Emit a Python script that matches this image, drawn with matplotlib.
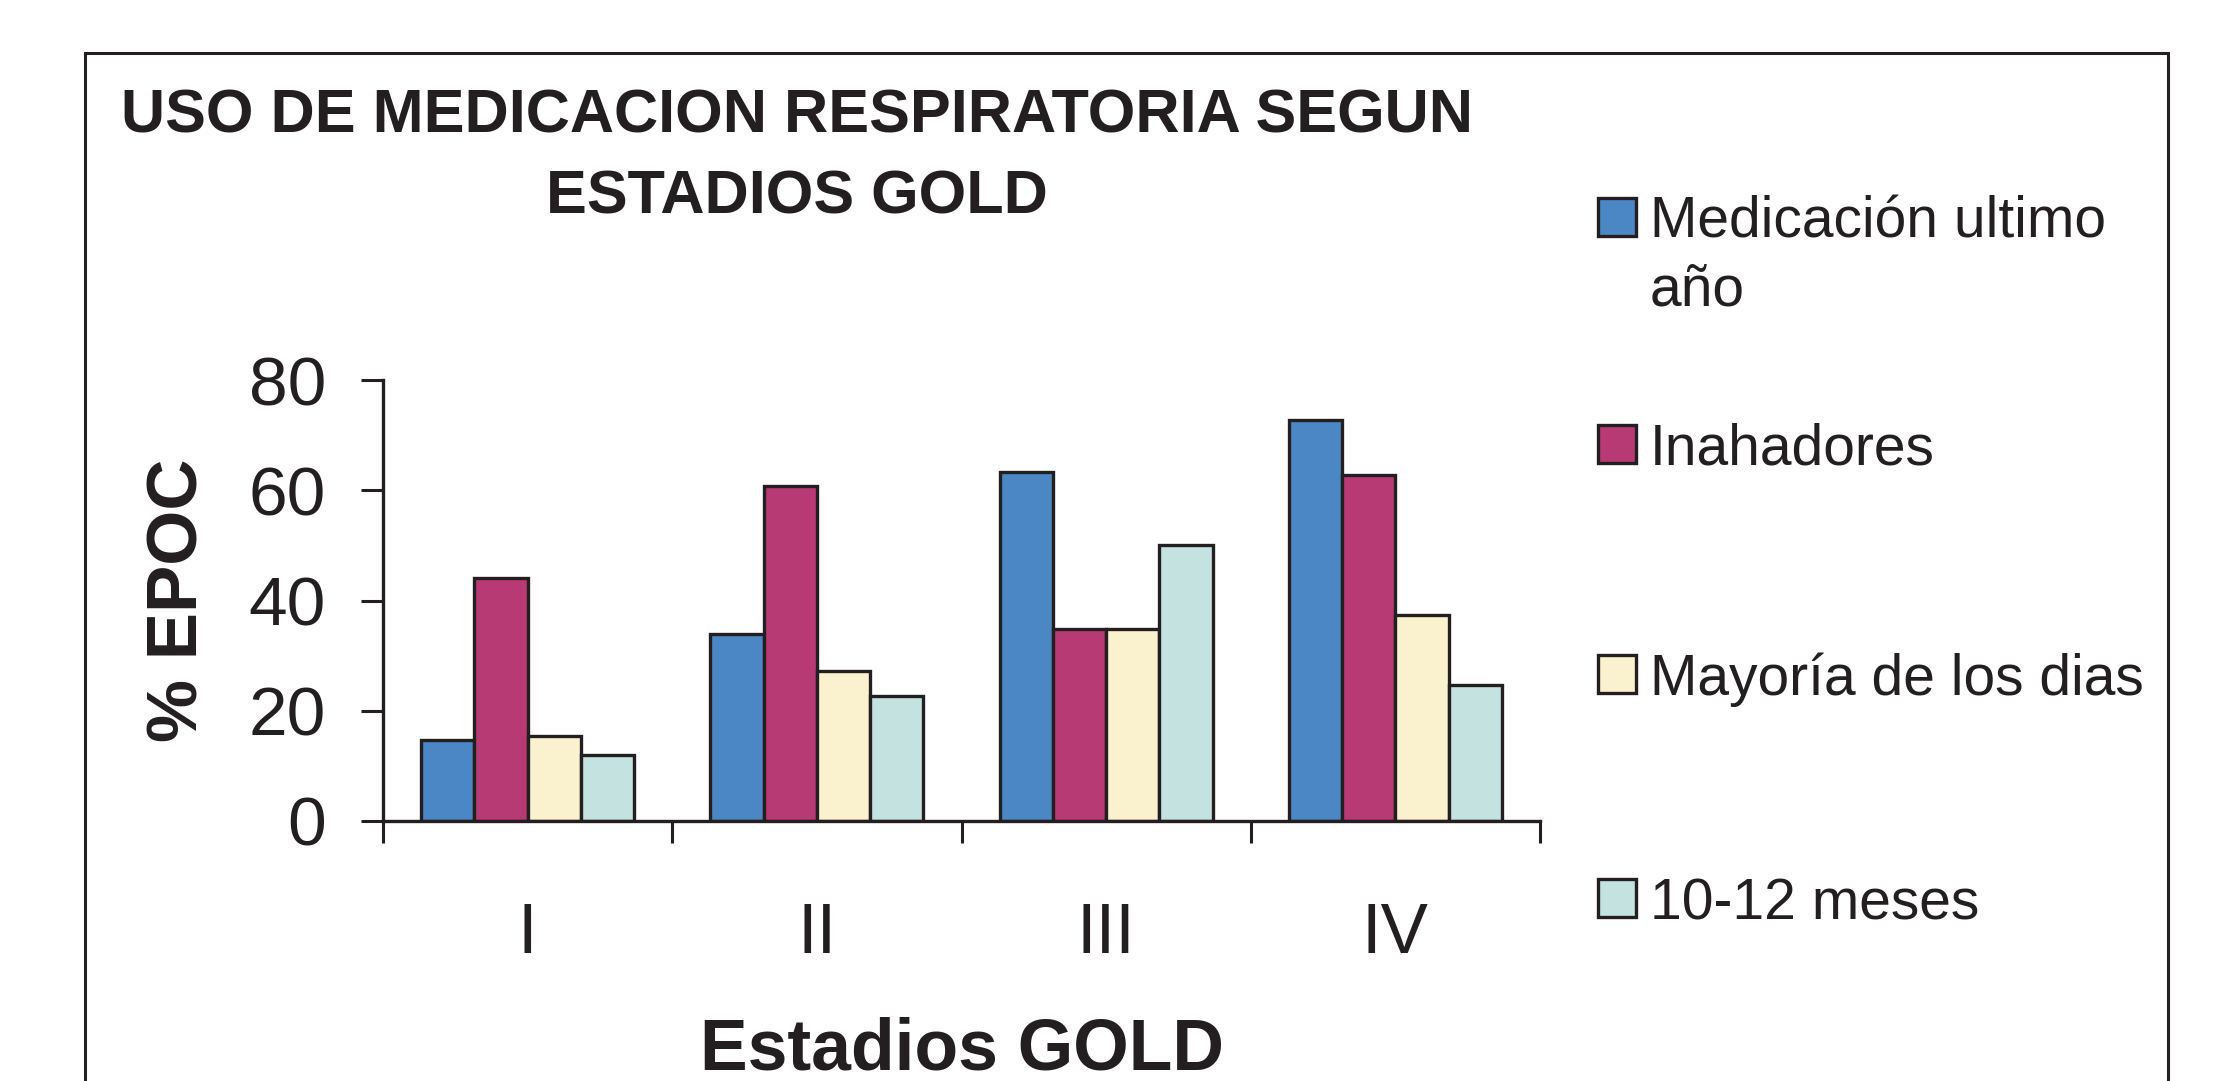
import matplotlib
matplotlib.use("Agg")
import matplotlib.pyplot as plt
import numpy as np
from matplotlib.patches import Rectangle

# ---- data ----
categories = ["I", "II", "III", "IV"]
series_labels = ["Medicación ultimo\naño", "Inahadores", "Mayoría de los dias", "10-12 meses"]
medicacion = [14.7, 34.0, 63.4, 72.8]
inhaladores = [44.0, 60.8, 34.8, 62.7]
mayoria = [15.4, 27.3, 34.8, 37.3]
meses = [12.0, 22.7, 50.1, 24.7]
series_values = [medicacion, inhaladores, mayoria, meses]
colors = ["#4B87C5", "#B73A74", "#FAF2CE", "#C4E3E0"]
yticks = [0, 20, 40, 60, 80]
title_lines = ["USO DE MEDICACION RESPIRATORIA SEGUN", "ESTADIOS GOLD"]
ylabel = "% EPOC"
xlabel = "Estadios GOLD"

plt.rcParams['font.family'] = ['Liberation Sans', 'DejaVu Sans']
edge = "#231F20"

W, H = 2225, 1081
fig = plt.figure(figsize=(W / 100, H / 100), dpi=100)

def fx(px):
    return px / W

def fy(py):
    return 1 - py / H

# axes placement
ax_left, ax_right, ax_top, ax_bot = 383, 1540, 380, 821
ax = fig.add_axes([fx(ax_left), fy(ax_bot), fx(ax_right - ax_left), (ax_bot - ax_top) / H])

n = len(series_values)
bw = 0.184
x = np.arange(len(categories))
for i, (vals, c) in enumerate(zip(series_values, colors)):
    offs = (i - (n - 1) / 2) * bw
    ax.bar(x + offs, vals, width=bw, color=c, edgecolor=edge, linewidth=2.4, zorder=2)

ax.set_xlim(-0.5, len(categories) - 0.5)
ax.set_ylim(0, 80)
for s in ["top", "right"]:
    ax.spines[s].set_visible(False)
for s in ["left", "bottom"]:
    ax.spines[s].set_linewidth(2.4)
    ax.spines[s].set_color(edge)
    ax.spines[s].set_zorder(3)

ax.set_yticks(yticks)
ax.set_yticklabels([str(v) for v in yticks])
ax.tick_params(axis='y', direction='out', length=16, width=2.2, color=edge,
               labelsize=50, pad=25, labelcolor=edge)

ax.set_xticks(np.arange(-0.5, len(categories), 1.0))
ax.set_xticklabels([])
ax.set_xticks(x, minor=True)
ax.set_xticklabels(categories, minor=True)
ax.tick_params(axis='x', which='major', direction='out', length=16, width=2.2, color=edge)
ax.tick_params(axis='x', which='minor', length=0, labelsize=51, pad=58, labelcolor=edge)

ax.set_ylabel(ylabel, fontsize=51, fontweight='bold', color=edge, va='center')
ax.yaxis.set_label_coords(-0.176, 0.5)
ax.set_xlabel(xlabel, fontsize=51.5, fontweight='bold', color=edge, va='baseline')
ax.xaxis.set_label_coords(0.5, (ax_bot - 1069) / (ax_bot - ax_top))

# title
fig.text(fx(797), fy(132), title_lines[0], fontsize=44, fontweight='bold',
         ha='center', va='baseline', color=edge)
fig.text(fx(797), fy(213), title_lines[1], fontsize=44, fontweight='bold',
         ha='center', va='baseline', color=edge)

# legend (manual)
sq_centers = [217, 444, 674, 898]
sq = 38
for lab, c, cy in zip(series_labels, colors, sq_centers):
    fig.patches.append(Rectangle((fx(1598), fy(cy + sq / 2)), sq / W, sq / H,
                                 transform=fig.transFigure, facecolor=c,
                                 edgecolor=edge, linewidth=2.4))
    for k, line in enumerate(lab.split("\n")):
        fig.text(fx(1650), fy(cy + 21 + k * 68), line, fontsize=41,
                 ha='left', va='baseline', color=edge)

# outer frame
fig.patches.append(Rectangle((fx(85), fy(1090)), (2168 - 85) / W, (1090 - 53) / H,
                             transform=fig.transFigure, facecolor='none',
                             edgecolor=edge, linewidth=2.2, clip_on=False))

fig.savefig("out.png", dpi=100)
